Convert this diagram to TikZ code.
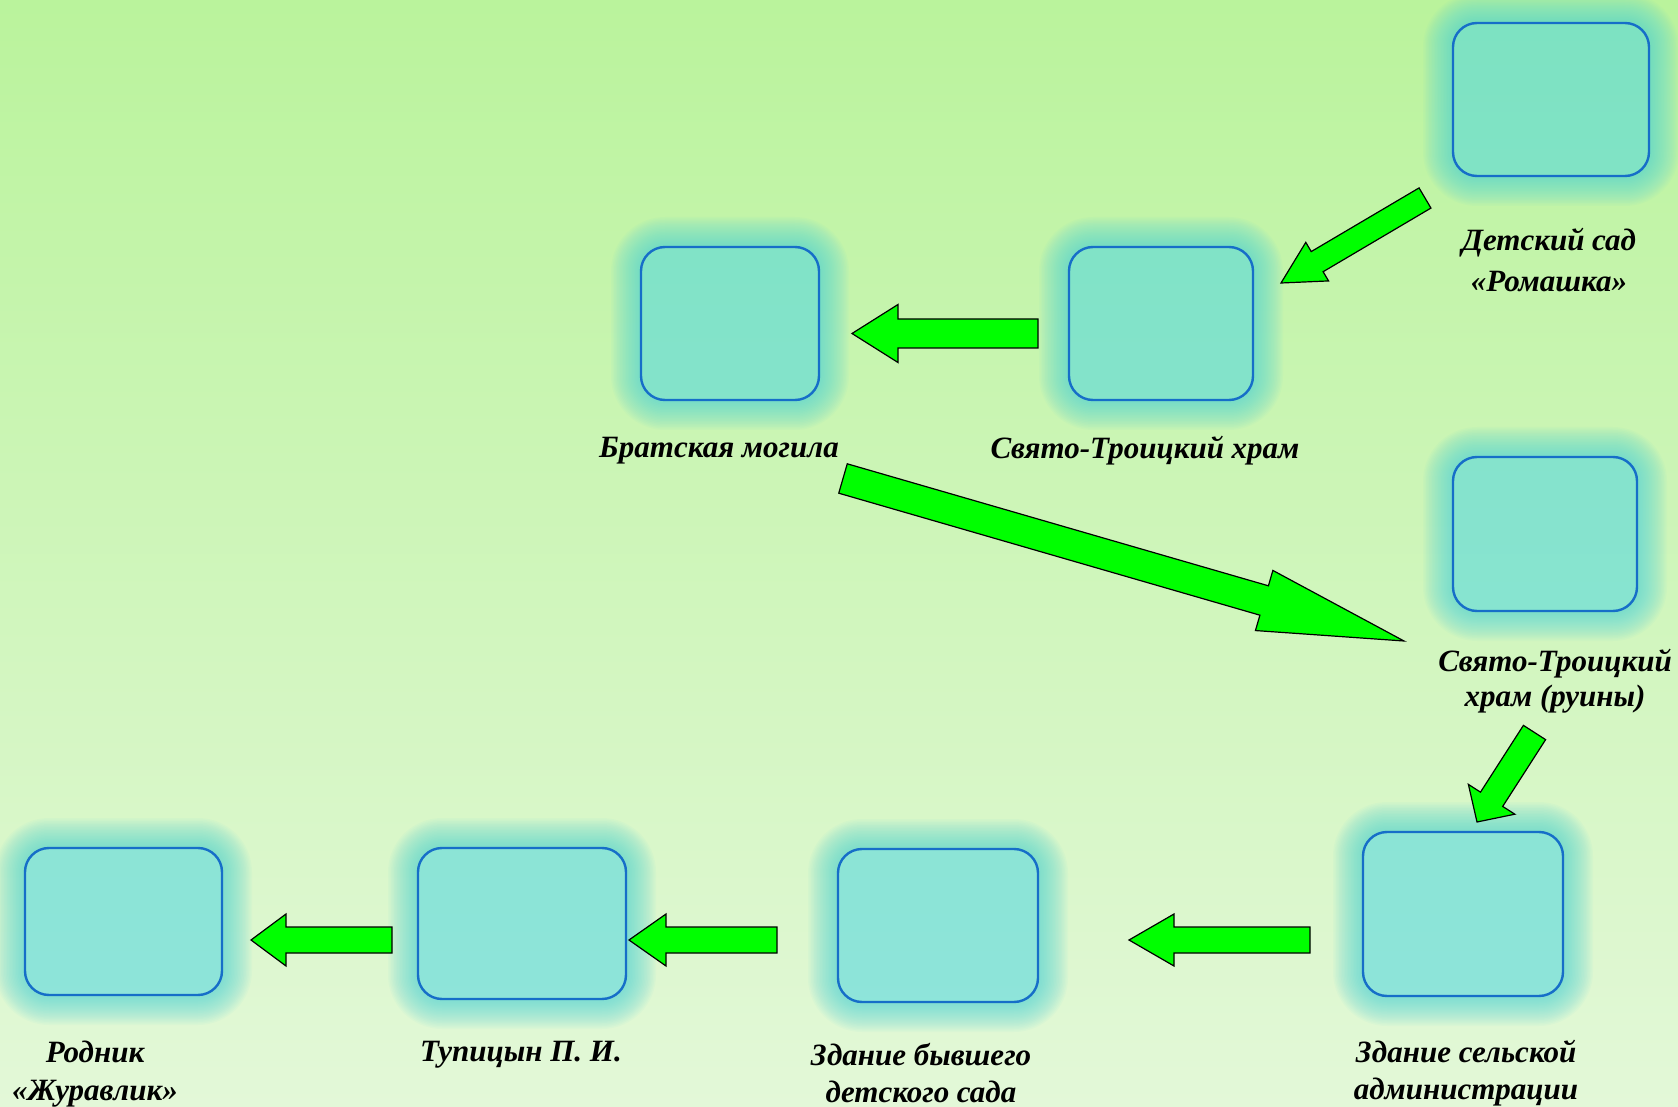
\documentclass[tikz,border=0pt]{standalone}
\usepackage{fontspec}
\setmainfont{Liberation Serif}
\usetikzlibrary{calc}
\definecolor{bgtop}{RGB}{186,243,156}
\definecolor{bgbot}{RGB}{227,248,216}
\definecolor{boxfill}{RGB}{74,213,225}
\definecolor{boxline}{RGB}{22,110,200}
\definecolor{arrfill}{RGB}{0,255,0}
\pgfdeclarelayer{bg}
\pgfdeclarelayer{glow}
\pgfsetlayers{bg,glow,main}
\tikzset{
 pbox/.style={rounded corners=12pt, draw=boxline, line width=1.2pt, fill=boxfill, fill opacity=0.54, draw opacity=1, inner sep=0pt, outer sep=0pt},
 lbl/.style={font=\fontsize{15.5}{#1}\selectfont\bfseries\itshape, align=center, inner sep=0pt, text=black},
 lbl/.default=18.5,
 barrowstyle/.style={fill=arrfill, draw=black, line width=0.6pt, line join=miter},
 glowc/.style={fill=boxfill, opacity=0.045}
}
\newcommand\glowring[1]{%
  \foreach \d in {0.75,1.5,...,15}{%
    \pgfmathsetmacro\rr{12+\d}%
    \fill[glowc, even odd rule] [rounded corners=\rr pt] ($(#1.south west)+(-\d pt,-\d pt)$) rectangle ($(#1.north east)+(\d pt,\d pt)$) [rounded corners=12pt] (#1.south west) rectangle (#1.north east);
  }}
\newcommand\grarrow[5]{%
  \coordinate (hb) at ($(#2)!#5!(#1)$);
  \draw[barrowstyle] ($(#1)!#3!90:(#2)$) -- ($(hb)!#3!-90:(#1)$) -- ($(hb)!#4!-90:(#1)$) -- (#2) -- ($(hb)!#4!90:(#1)$) -- ($(hb)!#3!90:(#1)$) -- ($(#1)!#3!-90:(#2)$) -- cycle;
}
\begin{document}
\begin{tikzpicture}[x=0.5pt,y=-0.5pt]
\useasboundingbox (0,0) rectangle (1678,1107);
\begin{pgfonlayer}{bg}
\shade[top color=bgtop, bottom color=bgbot] (0,0) rectangle (1678,1107);
\end{pgfonlayer}
% boxes
\node[pbox, minimum width=98pt, minimum height=76.5pt] (b1) at (1551,99.5) {};
\node[pbox, minimum width=92pt, minimum height=76.5pt] (b2) at (1161,323.5) {};
\node[pbox, minimum width=89pt, minimum height=76.5pt] (b3) at (730,323.5) {};
\node[pbox, minimum width=92pt, minimum height=77pt] (b4) at (1545,534) {};
\node[pbox, minimum width=100pt, minimum height=82pt] (b5) at (1463,914) {};
\node[pbox, minimum width=100pt, minimum height=76.5pt] (b6) at (938,925.5) {};
\node[pbox, minimum width=104pt, minimum height=75.5pt] (b7) at (522,923.5) {};
\node[pbox, minimum width=98.5pt, minimum height=73.5pt] (b8) at (123.5,921.5) {};
\begin{pgfonlayer}{glow}
\glowring{b1}\glowring{b2}\glowring{b3}\glowring{b4}\glowring{b5}\glowring{b6}\glowring{b7}\glowring{b8}
\end{pgfonlayer}
% labels
\node[lbl=20.3] (l1) at (1549,260) {Детский сад\\«Ромашка»};
\node[lbl] (l3) at (719,451) {Братская могила};
\node[lbl] (l2) at (1145,451) {Свято-Троицкий храм};
\node[lbl=17.2] (l4) at (1555,681) {Свято-Троицкий\\храм (руины)};
\node[lbl=18.3] (l5) at (1466,1073) {Здание сельской\\администрации};
\node[lbl=18.3] (l6) at (921,1073) {Здание бывшего\\детского сада};
\node[lbl] (l7) at (521,1055) {Тупицын П. И.};
\node[lbl=18.6] (l8) at (95,1074) {Родник\\«Журавлик»};
% arrows
\coordinate (a1s) at (1425,198); \coordinate (a1e) at (1281,283);
\coordinate (a2s) at (1038,333.5); \coordinate (a2e) at (852,333.5);
\coordinate (a3s) at (843,478.5); \coordinate (a3e) at (1404,641);
\coordinate (a4s) at (1534.5,732.5); \coordinate (a4e) at (1477,822);
\coordinate (a5s) at (1310,940); \coordinate (a5e) at (1129,940);
\coordinate (a6s) at (777,940); \coordinate (a6e) at (629,940);
\coordinate (a7s) at (392,940); \coordinate (a7e) at (251,940);
\grarrow{a1s}{a1e}{5.85pt}{11.2pt}{21pt}
\grarrow{a2s}{a2e}{7.25pt}{14.5pt}{23pt}
\grarrow{a3s}{a3e}{7.65pt}{15.65pt}{72.8pt}
\grarrow{a4s}{a4e}{6.6pt}{13.8pt}{13.5pt}
\grarrow{a5s}{a5e}{6.5pt}{13pt}{22.5pt}
\grarrow{a6s}{a6e}{6.5pt}{13pt}{18.5pt}
\grarrow{a7s}{a7e}{6.5pt}{13pt}{17.5pt}
\end{tikzpicture}
\end{document}
